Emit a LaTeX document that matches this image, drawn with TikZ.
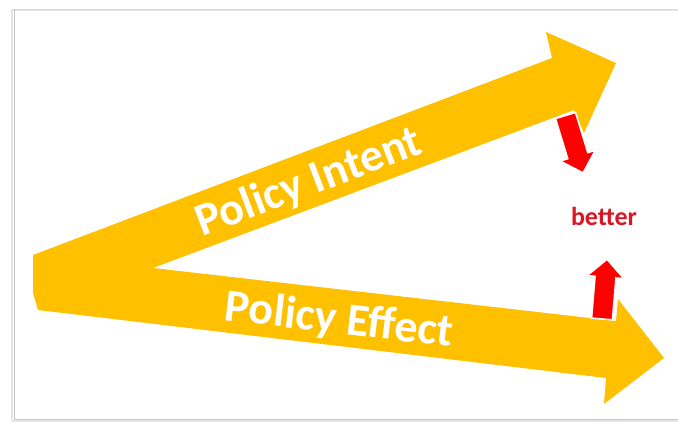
\documentclass[tikz,border=0pt]{standalone}
\usepackage{fontspec}
\setmainfont{Carlito}
\definecolor{gold}{RGB}{255,192,0}
\definecolor{arrred}{RGB}{255,0,0}
\definecolor{txtred}{RGB}{218,22,38}
\begin{document}
\begin{tikzpicture}[x=1pt,y=-1pt,
  lbl/.style={font=\fontsize{46}{46}\selectfont\bfseries, text=white, inner sep=0pt},
  redarrow/.style={fill=arrred, draw=white, line width=1.6pt, line join=miter},
  framelinea/.style={draw=black!22, line width=1.2pt},
  framelineb/.style={draw=black!10, line width=2.5pt}]
\useasboundingbox (0,0) rectangle (678,422);
\fill[white] (0,0) rectangle (678,422);
% frame with soft shadow
\draw[framelineb] (12,420.5) -- (12,10) -- (680,10);
\draw[framelineb] (12,421) -- (680,421);
\draw[framelinea] (14.5,420) -- (14.5,9.5);
\draw[draw=black!15, line width=0.8pt] (14.5,9.5) -- (680,9.5);
\draw[framelinea] (14.5,419.5) -- (680,419.5);
% yellow bent double arrow
\fill[gold] (33,255) -- (552,58) -- (546,32) -- (616,63) -- (584,133) -- (574,110)
  -- (153,268) -- (616,321) -- (618,299) -- (664,358) -- (604,404) -- (606,378)
  -- (38,310) -- (33,293) -- cycle;
% labels
\node[lbl, rotate=20.8] (intent) at (309,183) {Policy Intent};
\node[lbl, rotate=-6.7] (effect) at (339,321) {Policy Effect};
% red arrows
\begin{scope}[shift={(565.5,115.5)}, rotate=-73]
\draw[redarrow] (0,-10.5) -- (42,-10.5) -- (42,-18.5) -- (60,0) -- (42,18.5) -- (42,10.5) -- (0,10.5) -- cycle;
\end{scope}
\begin{scope}[shift={(602,319)}, rotate=85.2]
\draw[redarrow] (0,-10.5) -- (42,-10.5) -- (42,-18.5) -- (60,0) -- (42,18.5) -- (42,10.5) -- (0,10.5) -- cycle;
\end{scope}
\node[font=\fontsize{26}{26}\selectfont\bfseries, text=txtred, inner sep=0pt] (better) at (604,216) {better};
\end{tikzpicture}
\end{document}
